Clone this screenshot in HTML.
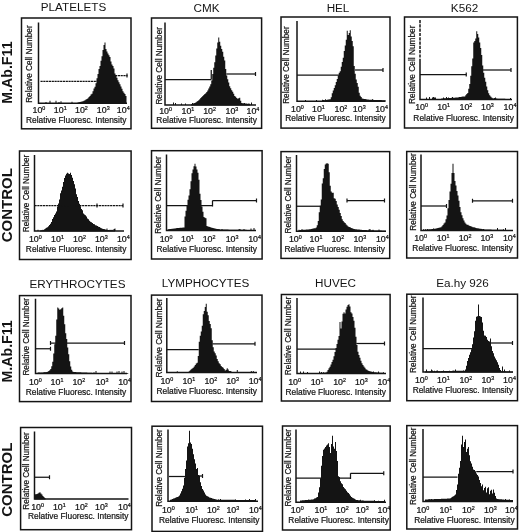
<!DOCTYPE html>
<html><head><meta charset="utf-8"><title>Flow cytometry histograms</title>
<style>
html,body{margin:0;padding:0;background:#fff;}
body{width:520px;height:532px;overflow:hidden;}
svg{display:block;font-family:"Liberation Sans",sans-serif;fill:#141414;}
.tk,.xl,.yl{stroke:#141414;stroke-width:0.22px;}
.tk{font-size:8.2px;}
.sp{font-size:5px;}
.xl{font-size:8.3px;}
.yl{font-size:8.2px;}
.tt{font-size:11.7px;}
.rl{font-size:14.2px;font-weight:bold;}
</style></head><body>
<svg width="520" height="532" viewBox="0 0 520 532">
<rect width="520" height="532" fill="#fff"/>
<rect x="21.5" y="18" width="109.5" height="110.80000000000001" fill="none" stroke="#141414" stroke-width="1.5"/>
<path d="M38.5 22.5V103.2H127" fill="none" stroke="#141414" stroke-width="1.5"/>
<path d="M45.5 103.2v-1.2h1v1.2zM49.5 103.2v-2.4h1v2.4zM55.5 103.2v-2.4h1v2.4zM58.5 103.2v-1.2h1v1.2zM60.5 103.2v-1.9h1v1.9zM71.5 103.2v-1.5h1v1.5zM85.5 103.2v-1.9h1v1.9zM88.5 103.2v-1.9h1v1.9zM93.5 103.2v-1.9h1v1.9zM95.5 103.2v-2.4h1v2.4zM96.5 103.2v-1.2h1v1.2zM98.5 103.2v-1.9h1v1.9zM101.5 103.2v-1.2h1v1.2zM108.5 103.2v-1.2h1v1.2zM109.5 103.2v-1.2h1v1.2zM118.5 103.2v-2.4h1v2.4zM124.5 103.2v-1.9h1v1.9z" fill="#141414"/>
<path d="M77.50 103.7V102.40h1V102.20h1V102.00h1V101.80h1V101.60h1V101.25h1V100.75h1V100.25h1V99.59h1V98.98h1V98.21h1V97.00h1V95.89h1V94.55h1V93.66h1V91.37h1V88.55h1V86.67h1V83.18h1V78.20h1V73.89h1V68.99h1V65.98h1V60.75h1V56.36h1V50.00h1V45.00h1V42.50h1V48.93h1V51.50h1V53.50h1V55.19h1V57.09h1V61.61h1V64.46h1V65.97h1V68.59h1V73.42h1V75.87h1V77.82h1V80.32h1V82.20h1V84.24h1V86.60h1V88.78h1V91.15h1V92.71h1V94.06h1V95.99h1V103.7Z" fill="#141414"/>
<path d="M40.50 81.25L97.50 81.25" stroke="#141414" stroke-width="1.25" stroke-dasharray="2.2 0.6" fill="none"/>
<path d="M115.00 75.50L127.50 75.50" stroke="#141414" stroke-width="1.25" stroke-dasharray="2.2 0.6" fill="none"/>
<path d="M127.00 73.50v4" stroke="#141414" stroke-width="1.2" fill="none"/>
<text transform="translate(32.5 113.0) scale(1.08 1)" class="tk">10<tspan dy="-3" class="sp">0</tspan></text>
<text transform="translate(53.8 113.0) scale(1.08 1)" class="tk">10<tspan dy="-3" class="sp">1</tspan></text>
<text transform="translate(75.0 113.0) scale(1.08 1)" class="tk">10<tspan dy="-3" class="sp">2</tspan></text>
<text transform="translate(96.8 113.0) scale(1.08 1)" class="tk">10<tspan dy="-3" class="sp">3</tspan></text>
<text transform="translate(116.8 113.0) scale(1.08 1)" class="tk">10<tspan dy="-3" class="sp">4</tspan></text>
<text x="76.2" y="123.0" class="xl" text-anchor="middle" textLength="100.5" lengthAdjust="spacingAndGlyphs">Relative Fluoresc. Intensity</text>
<text transform="translate(32.0 64.1) rotate(-90)" class="yl" text-anchor="middle" textLength="77.5" lengthAdjust="spacingAndGlyphs">Relative Cell Number</text>
<rect x="151.5" y="18" width="110.10000000000002" height="110.30000000000001" fill="none" stroke="#141414" stroke-width="1.5"/>
<path d="M165 22.5V105H256" fill="none" stroke="#141414" stroke-width="1.5"/>
<path d="M173.0 105v-2.4h1v2.4zM175.0 105v-1.9h1v1.9zM181.0 105v-1.5h1v1.5zM185.0 105v-1.5h1v1.5zM192.0 105v-1.9h1v1.9zM201.0 105v-2.4h1v2.4zM202.0 105v-1.2h1v1.2zM210.0 105v-2.4h1v2.4zM217.0 105v-1.9h1v1.9zM218.0 105v-1.5h1v1.5zM219.0 105v-1.5h1v1.5zM223.0 105v-1.2h1v1.2zM224.0 105v-1.9h1v1.9zM226.0 105v-2.4h1v2.4zM227.0 105v-1.2h1v1.2zM234.0 105v-1.2h1v1.2zM235.0 105v-1.9h1v1.9zM239.0 105v-2.4h1v2.4zM240.0 105v-1.9h1v1.9zM244.0 105v-1.9h1v1.9zM246.0 105v-1.2h1v1.2zM248.0 105v-1.2h1v1.2zM249.0 105v-1.2h1v1.2zM251.0 105v-2.4h1v2.4z" fill="#141414"/>
<path d="M191.25 105.5V104.07h1V103.72h1V103.37h1V103.01h1V102.56h1V101.78h1V101.03h1V100.35h1V99.26h1V98.02h1V97.12h1V95.94h1V94.90h1V94.11h1V93.28h1V92.09h1V90.60h1V88.53h1V86.47h1V84.32h1V80.44h1V74.01h1V67.73h1V62.31h1V55.52h1V48.50h1V42.50h1V37.50h1V41.79h1V45.78h1V48.91h1V51.86h1V56.74h1V60.47h1V69.05h1V75.61h1V79.25h1V82.51h1V86.28h1V88.27h1V90.24h1V91.74h1V93.63h1V95.97h1V96.83h1V97.91h1V98.81h1V98.21h1V97.80h1V100.74h1V103.06h1V103.17h1V103.29h1V103.40h1V103.51h1V103.63h1V103.74h1V103.86h1V103.97h1V105.5Z" fill="#141414"/>
<path d="M165.00 79.50L211.25 79.50" stroke="#141414" stroke-width="1.25" fill="none"/>
<path d="M211.25 70.00L211.25 79.50" stroke="#141414" stroke-width="1.25" fill="none"/>
<path d="M226.25 74.00L255.50 74.00" stroke="#141414" stroke-width="1.25" fill="none"/>
<path d="M255.50 72.00v4" stroke="#141414" stroke-width="1.2" fill="none"/>
<text transform="translate(159.2 114.3) scale(1.08 1)" class="tk">10<tspan dy="-3" class="sp">0</tspan></text>
<text transform="translate(181.5 114.3) scale(1.08 1)" class="tk">10<tspan dy="-3" class="sp">1</tspan></text>
<text transform="translate(203.2 114.3) scale(1.08 1)" class="tk">10<tspan dy="-3" class="sp">2</tspan></text>
<text transform="translate(225.5 114.3) scale(1.08 1)" class="tk">10<tspan dy="-3" class="sp">3</tspan></text>
<text transform="translate(246.5 114.3) scale(1.08 1)" class="tk">10<tspan dy="-3" class="sp">4</tspan></text>
<text x="206.6" y="122.8" class="xl" text-anchor="middle" textLength="100.5" lengthAdjust="spacingAndGlyphs">Relative Fluoresc. Intensity</text>
<text transform="translate(161.7 65.8) rotate(-90)" class="yl" text-anchor="middle" textLength="77.5" lengthAdjust="spacingAndGlyphs">Relative Cell Number</text>
<rect x="281" y="17" width="109" height="111.1" fill="none" stroke="#141414" stroke-width="1.5"/>
<path d="M297 21V101.2H385" fill="none" stroke="#141414" stroke-width="1.5"/>
<path d="M305.0 101.2v-1.2h1v1.2zM316.0 101.2v-1.2h1v1.2zM322.0 101.2v-1.5h1v1.5zM323.0 101.2v-1.2h1v1.2zM325.0 101.2v-1.9h1v1.9zM327.0 101.2v-1.2h1v1.2zM329.0 101.2v-1.5h1v1.5zM348.0 101.2v-2.4h1v2.4zM350.0 101.2v-1.2h1v1.2zM357.0 101.2v-1.5h1v1.5zM358.0 101.2v-1.9h1v1.9zM372.0 101.2v-1.9h1v1.9zM379.0 101.2v-1.2h1v1.2z" fill="#141414"/>
<path d="M323.75 101.7V100.18h1V100.04h1V99.89h1V99.75h1V99.61h1V99.46h1V99.32h1V97.29h1V93.26h1V90.55h1V88.05h1V85.35h1V81.89h1V79.05h1V75.58h1V72.74h1V71.20h1V66.78h1V62.00h1V57.69h1V51.06h1V45.61h1V39.75h1V30.75h1V34.95h1V33.12h1V30.25h1V36.50h1V40.93h1V46.23h1V66.07h1V73.78h1V79.47h1V83.05h1V86.83h1V92.64h1V95.69h1V97.12h1V98.44h1V98.85h1V98.98h1V99.12h1V99.25h1V99.38h1V99.52h1V99.65h1V99.76h1V99.79h1V99.83h1V99.86h1V99.89h1V99.92h1V99.96h1V99.99h1V100.03h1V100.06h1V100.09h1V100.12h1V100.16h1V100.19h1V100.22h1V100.25h1V101.7Z" fill="#141414"/>
<path d="M297.00 75.00L340.00 75.00" stroke="#141414" stroke-width="1.25" fill="none"/>
<path d="M355.00 70.00L383.00 70.00" stroke="#141414" stroke-width="1.25" fill="none"/>
<path d="M383.00 68.00v4" stroke="#141414" stroke-width="1.2" fill="none"/>
<text transform="translate(291.0 112.0) scale(1.08 1)" class="tk">10<tspan dy="-3" class="sp">0</tspan></text>
<text transform="translate(312.0 112.0) scale(1.08 1)" class="tk">10<tspan dy="-3" class="sp">1</tspan></text>
<text transform="translate(334.5 112.0) scale(1.08 1)" class="tk">10<tspan dy="-3" class="sp">2</tspan></text>
<text transform="translate(352.8 112.0) scale(1.08 1)" class="tk">10<tspan dy="-3" class="sp">3</tspan></text>
<text transform="translate(375.2 112.0) scale(1.08 1)" class="tk">10<tspan dy="-3" class="sp">4</tspan></text>
<text x="335.5" y="120.7" class="xl" text-anchor="middle" textLength="100.5" lengthAdjust="spacingAndGlyphs">Relative Fluoresc. Intensity</text>
<text transform="translate(288.6 65.1) rotate(-90)" class="yl" text-anchor="middle" textLength="77.5" lengthAdjust="spacingAndGlyphs">Relative Cell Number</text>
<rect x="404.5" y="17" width="112.89999999999998" height="111" fill="none" stroke="#141414" stroke-width="1.5"/>
<path d="M420 20V62" fill="none" stroke="#141414" stroke-width="1.5" stroke-dasharray="3.2 1.1"/>
<path d="M420 62V99.5H512" fill="none" stroke="#141414" stroke-width="1.5"/>
<path d="M426.0 99.5v-1.9h1v1.9zM429.0 99.5v-2.4h1v2.4zM432.0 99.5v-1.9h1v1.9zM433.0 99.5v-2.4h1v2.4zM434.0 99.5v-1.9h1v1.9zM435.0 99.5v-1.9h1v1.9zM443.0 99.5v-1.9h1v1.9zM446.0 99.5v-2.4h1v2.4zM448.0 99.5v-1.9h1v1.9zM451.0 99.5v-1.5h1v1.5zM452.0 99.5v-2.4h1v2.4zM453.0 99.5v-1.5h1v1.5zM459.0 99.5v-2.4h1v2.4zM461.0 99.5v-1.2h1v1.2zM462.0 99.5v-1.5h1v1.5zM470.0 99.5v-1.9h1v1.9zM480.0 99.5v-1.9h1v1.9zM485.0 99.5v-1.5h1v1.5zM490.0 99.5v-1.5h1v1.5zM494.0 99.5v-1.5h1v1.5zM495.0 99.5v-1.9h1v1.9zM510.0 99.5v-1.5h1v1.5z" fill="#141414"/>
<path d="M441.25 100.0V98.47h1V98.41h1V98.35h1V98.28h1V98.22h1V98.16h1V98.10h1V98.04h1V97.98h1V97.92h1V97.85h1V97.79h1V97.73h1V97.67h1V97.61h1V97.55h1V97.46h1V97.29h1V97.12h1V96.96h1V96.79h1V96.62h1V96.43h1V96.45h1V95.26h1V94.05h1V92.88h1V88.84h1V83.96h1V75.85h1V66.26h1V58.52h1V42.50h1V41.07h1V38.54h1V31.25h1V33.93h1V37.50h1V42.50h1V48.02h1V54.93h1V65.50h1V72.63h1V77.87h1V81.82h1V86.60h1V90.23h1V93.33h1V95.21h1V96.54h1V97.38h1V98.28h1V98.52h1V98.55h1V98.58h1V98.61h1V98.64h1V98.67h1V98.70h1V98.73h1V98.76h1V98.79h1V98.82h1V98.85h1V98.88h1V98.90h1V98.93h1V98.96h1V98.99h1V100.0Z" fill="#141414"/>
<path d="M420.00 74.50L466.25 74.50" stroke="#141414" stroke-width="1.25" fill="none"/>
<path d="M466.25 72.50v4" stroke="#141414" stroke-width="1.2" fill="none"/>
<path d="M483.00 70.00L511.00 70.00" stroke="#141414" stroke-width="1.25" fill="none"/>
<path d="M511.00 68.00v4" stroke="#141414" stroke-width="1.2" fill="none"/>
<text transform="translate(415.2 110.4) scale(1.08 1)" class="tk">10<tspan dy="-3" class="sp">0</tspan></text>
<text transform="translate(437.2 110.4) scale(1.08 1)" class="tk">10<tspan dy="-3" class="sp">1</tspan></text>
<text transform="translate(459.5 110.4) scale(1.08 1)" class="tk">10<tspan dy="-3" class="sp">2</tspan></text>
<text transform="translate(481.0 110.4) scale(1.08 1)" class="tk">10<tspan dy="-3" class="sp">3</tspan></text>
<text transform="translate(503.6 110.4) scale(1.08 1)" class="tk">10<tspan dy="-3" class="sp">4</tspan></text>
<text x="463.6" y="120.5" class="xl" text-anchor="middle" textLength="100.5" lengthAdjust="spacingAndGlyphs">Relative Fluoresc. Intensity</text>
<text transform="translate(415.2 64.8) rotate(-90)" class="yl" text-anchor="middle" textLength="78.5" lengthAdjust="spacingAndGlyphs">Relative Cell Number</text>
<rect x="19.5" y="151" width="111.6" height="108.5" fill="none" stroke="#141414" stroke-width="1.5"/>
<path d="M34.5 155V231H124" fill="none" stroke="#141414" stroke-width="1.5"/>
<path d="M37.5 231v-1.2h1v1.2zM42.5 231v-1.2h1v1.2zM52.5 231v-1.2h1v1.2zM58.5 231v-2.4h1v2.4zM59.5 231v-2.4h1v2.4zM64.5 231v-1.2h1v1.2zM71.5 231v-1.5h1v1.5zM76.5 231v-1.2h1v1.2zM77.5 231v-2.4h1v2.4zM80.5 231v-1.5h1v1.5zM82.5 231v-1.2h1v1.2zM85.5 231v-1.2h1v1.2zM87.5 231v-2.4h1v2.4zM88.5 231v-1.5h1v1.5zM91.5 231v-1.9h1v1.9zM94.5 231v-1.2h1v1.2zM103.5 231v-1.9h1v1.9zM106.5 231v-2.4h1v2.4zM109.5 231v-1.2h1v1.2zM111.5 231v-1.2h1v1.2zM113.5 231v-1.9h1v1.9zM114.5 231v-2.4h1v2.4z" fill="#141414"/>
<path d="M40.00 231.5V230.43h1V230.29h1V230.14h1V230.00h1V229.26h1V228.53h1V227.71h1V227.19h1V226.27h1V224.99h1V223.73h1V222.10h1V219.03h1V217.21h1V215.11h1V213.46h1V211.45h1V206.62h1V203.47h1V199.53h1V193.35h1V190.55h1V186.83h1V181.88h1V177.89h1V175.46h1V173.75h1V172.75h1V173.61h1V174.00h1V172.75h1V174.91h1V177.78h1V180.96h1V184.25h1V188.59h1V194.29h1V196.91h1V201.10h1V203.66h1V206.25h1V208.99h1V210.32h1V213.43h1V214.62h1V215.17h1V216.44h1V218.58h1V219.32h1V220.72h1V221.73h1V222.27h1V222.89h1V224.08h1V224.36h1V225.23h1V225.62h1V226.04h1V226.65h1V227.07h1V227.87h1V228.24h1V228.65h1V228.95h1V229.25h1V229.55h1V229.85h1V230.03h1V230.10h1V230.17h1V230.23h1V230.30h1V230.37h1V230.43h1V230.50h1V231.5Z" fill="#141414"/>
<path d="M34.50 205.50L123.00 205.50" stroke="#141414" stroke-width="1.25" stroke-dasharray="2.2 0.6" fill="none"/>
<path d="M97.00 203.50v4" stroke="#141414" stroke-width="1.2" fill="none"/>
<path d="M123.00 203.50v4" stroke="#141414" stroke-width="1.2" fill="none"/>
<text transform="translate(28.9 242.0) scale(1.08 1)" class="tk">10<tspan dy="-3" class="sp">0</tspan></text>
<text transform="translate(51.1 242.0) scale(1.08 1)" class="tk">10<tspan dy="-3" class="sp">1</tspan></text>
<text transform="translate(73.1 242.0) scale(1.08 1)" class="tk">10<tspan dy="-3" class="sp">2</tspan></text>
<text transform="translate(94.9 242.0) scale(1.08 1)" class="tk">10<tspan dy="-3" class="sp">3</tspan></text>
<text transform="translate(116.9 242.0) scale(1.08 1)" class="tk">10<tspan dy="-3" class="sp">4</tspan></text>
<text x="76.1" y="251.5" class="xl" text-anchor="middle" textLength="100.5" lengthAdjust="spacingAndGlyphs">Relative Fluoresc. Intensity</text>
<text transform="translate(29.0 193.5) rotate(-90)" class="yl" text-anchor="middle" textLength="77.5" lengthAdjust="spacingAndGlyphs">Relative Cell Number</text>
<rect x="151.5" y="150.7" width="110.60000000000002" height="108.30000000000001" fill="none" stroke="#141414" stroke-width="1.5"/>
<path d="M166.5 154.5V230.5H256" fill="none" stroke="#141414" stroke-width="1.5"/>
<path d="M168.5 230.5v-1.2h1v1.2zM173.5 230.5v-1.2h1v1.2zM176.5 230.5v-1.2h1v1.2zM177.5 230.5v-1.9h1v1.9zM186.5 230.5v-1.5h1v1.5zM188.5 230.5v-1.2h1v1.2zM191.5 230.5v-1.9h1v1.9zM192.5 230.5v-2.4h1v2.4zM196.5 230.5v-2.4h1v2.4zM202.5 230.5v-2.4h1v2.4zM204.5 230.5v-1.2h1v1.2zM207.5 230.5v-1.9h1v1.9zM208.5 230.5v-1.2h1v1.2zM213.5 230.5v-1.5h1v1.5zM216.5 230.5v-1.5h1v1.5zM218.5 230.5v-1.5h1v1.5zM221.5 230.5v-1.5h1v1.5zM238.5 230.5v-1.2h1v1.2zM239.5 230.5v-1.5h1v1.5zM243.5 230.5v-1.5h1v1.5zM250.5 230.5v-1.9h1v1.9zM253.5 230.5v-2.4h1v2.4z" fill="#141414"/>
<path d="M167.50 231.0V229.43h1V229.28h1V229.12h1V228.97h1V228.82h1V228.68h1V228.53h1V228.38h1V228.22h1V228.07h1V227.96h1V227.89h1V227.82h1V227.75h1V227.68h1V227.61h1V227.54h1V216.42h1V210.71h1V205.30h1V199.84h1V195.61h1V189.24h1V181.22h1V173.29h1V169.43h1V166.25h1V163.75h1V166.61h1V169.54h1V172.68h1V179.67h1V193.79h1V199.95h1V206.52h1V211.66h1V217.10h1V217.78h1V218.25h1V225.93h1V226.47h1V226.84h1V227.04h1V227.60h1V227.82h1V228.10h1V228.30h1V228.50h1V228.70h1V228.90h1V229.10h1V229.30h1V229.50h1V229.51h1V229.53h1V229.54h1V229.56h1V229.57h1V229.59h1V229.60h1V229.61h1V229.63h1V229.64h1V229.66h1V229.67h1V229.69h1V229.70h1V229.71h1V229.73h1V229.74h1V229.76h1V229.77h1V229.79h1V229.80h1V229.81h1V229.83h1V229.84h1V229.86h1V229.87h1V229.89h1V229.90h1V229.91h1V229.93h1V229.94h1V229.96h1V229.97h1V229.99h1V230.00h1V231.0Z" fill="#141414"/>
<path d="M166.00 205.50L212.50 205.50" stroke="#141414" stroke-width="1.25" fill="none"/>
<path d="M212.50 200.50L212.50 206.50" stroke="#141414" stroke-width="1.25" fill="none"/>
<path d="M212.50 200.50L256.50 200.50" stroke="#141414" stroke-width="1.25" fill="none"/>
<path d="M256.50 198.50v4" stroke="#141414" stroke-width="1.2" fill="none"/>
<text transform="translate(159.7 241.5) scale(1.08 1)" class="tk">10<tspan dy="-3" class="sp">0</tspan></text>
<text transform="translate(181.0 241.5) scale(1.08 1)" class="tk">10<tspan dy="-3" class="sp">1</tspan></text>
<text transform="translate(202.7 241.5) scale(1.08 1)" class="tk">10<tspan dy="-3" class="sp">2</tspan></text>
<text transform="translate(225.7 241.5) scale(1.08 1)" class="tk">10<tspan dy="-3" class="sp">3</tspan></text>
<text transform="translate(248.2 241.5) scale(1.08 1)" class="tk">10<tspan dy="-3" class="sp">4</tspan></text>
<text x="206.8" y="251.7" class="xl" text-anchor="middle" textLength="100.5" lengthAdjust="spacingAndGlyphs">Relative Fluoresc. Intensity</text>
<text transform="translate(161.3 195.0) rotate(-90)" class="yl" text-anchor="middle" textLength="77.5" lengthAdjust="spacingAndGlyphs">Relative Cell Number</text>
<rect x="281" y="151.6" width="108.69999999999999" height="106.79999999999998" fill="none" stroke="#141414" stroke-width="1.5"/>
<path d="M296.5 155V231.3H386" fill="none" stroke="#141414" stroke-width="1.5"/>
<path d="M298.5 231.3v-1.5h1v1.5zM300.5 231.3v-1.2h1v1.2zM301.5 231.3v-2.4h1v2.4zM319.5 231.3v-1.2h1v1.2zM325.5 231.3v-2.4h1v2.4zM330.5 231.3v-1.2h1v1.2zM332.5 231.3v-2.4h1v2.4zM340.5 231.3v-1.5h1v1.5zM341.5 231.3v-1.5h1v1.5zM350.5 231.3v-1.9h1v1.9zM351.5 231.3v-1.2h1v1.2zM357.5 231.3v-1.2h1v1.2zM362.5 231.3v-1.2h1v1.2zM368.5 231.3v-1.9h1v1.9zM369.5 231.3v-2.4h1v2.4zM372.5 231.3v-1.5h1v1.5zM378.5 231.3v-1.9h1v1.9z" fill="#141414"/>
<path d="M298.75 231.8V230.21h1V230.12h1V230.03h1V229.94h1V229.85h1V229.76h1V229.67h1V229.58h1V229.49h1V229.41h1V229.32h1V229.20h1V228.99h1V228.78h1V228.57h1V228.36h1V228.28h1V227.50h1V225.29h1V221.04h1V212.37h1V205.87h1V199.38h1V183.49h1V178.25h1V169.08h1V164.44h1V163.50h1V163.25h1V163.67h1V172.25h1V185.86h1V191.57h1V192.83h1V192.70h1V198.21h1V198.80h1V201.03h1V204.44h1V207.04h1V209.86h1V212.98h1V216.03h1V219.37h1V221.02h1V222.31h1V223.12h1V224.45h1V225.41h1V226.46h1V226.96h1V227.34h1V227.96h1V228.35h1V228.87h1V229.08h1V229.18h1V229.29h1V229.39h1V229.50h1V229.61h1V229.71h1V229.82h1V229.92h1V230.01h1V230.04h1V230.08h1V230.11h1V230.14h1V230.18h1V230.21h1V230.25h1V230.28h1V230.32h1V230.35h1V230.38h1V230.42h1V230.45h1V230.49h1V230.52h1V230.55h1V230.59h1V230.62h1V230.66h1V230.69h1V230.72h1V230.75h1V231.8Z" fill="#141414"/>
<path d="M296.50 206.25L321.25 206.25" stroke="#141414" stroke-width="1.25" fill="none"/>
<path d="M347.00 200.50L384.50 200.50" stroke="#141414" stroke-width="1.25" fill="none"/>
<path d="M347.00 198.50v4" stroke="#141414" stroke-width="1.2" fill="none"/>
<path d="M384.50 198.50v4" stroke="#141414" stroke-width="1.2" fill="none"/>
<text transform="translate(288.9 242.3) scale(1.08 1)" class="tk">10<tspan dy="-3" class="sp">0</tspan></text>
<text transform="translate(309.6 242.3) scale(1.08 1)" class="tk">10<tspan dy="-3" class="sp">1</tspan></text>
<text transform="translate(331.4 242.3) scale(1.08 1)" class="tk">10<tspan dy="-3" class="sp">2</tspan></text>
<text transform="translate(353.4 242.3) scale(1.08 1)" class="tk">10<tspan dy="-3" class="sp">3</tspan></text>
<text transform="translate(375.9 242.3) scale(1.08 1)" class="tk">10<tspan dy="-3" class="sp">4</tspan></text>
<text x="334.7" y="251.8" class="xl" text-anchor="middle" textLength="100.5" lengthAdjust="spacingAndGlyphs">Relative Fluoresc. Intensity</text>
<text transform="translate(290.7 194.7) rotate(-90)" class="yl" text-anchor="middle" textLength="77.5" lengthAdjust="spacingAndGlyphs">Relative Cell Number</text>
<rect x="406.7" y="151.5" width="110.80000000000001" height="106.5" fill="none" stroke="#141414" stroke-width="1.5"/>
<path d="M421 154.5V230.5H513" fill="none" stroke="#141414" stroke-width="1.5"/>
<path d="M423.0 230.5v-1.2h1v1.2zM425.0 230.5v-1.2h1v1.2zM427.0 230.5v-1.5h1v1.5zM433.0 230.5v-1.9h1v1.9zM442.0 230.5v-1.9h1v1.9zM449.0 230.5v-2.4h1v2.4zM451.0 230.5v-1.9h1v1.9zM454.0 230.5v-1.5h1v1.5zM457.0 230.5v-1.2h1v1.2zM460.0 230.5v-1.2h1v1.2zM461.0 230.5v-1.2h1v1.2zM467.0 230.5v-2.4h1v2.4zM470.0 230.5v-2.4h1v2.4zM483.0 230.5v-1.5h1v1.5zM497.0 230.5v-2.4h1v2.4zM503.0 230.5v-1.2h1v1.2zM505.0 230.5v-2.4h1v2.4z" fill="#141414"/>
<path d="M422.50 231.0V229.95h1V229.85h1V229.75h1V229.65h1V229.55h1V229.45h1V229.35h1V229.25h1V229.15h1V229.05h1V228.95h1V228.85h1V228.75h1V228.47h1V228.19h1V227.91h1V227.63h1V227.38h1V227.13h1V226.19h1V224.89h1V223.56h1V222.53h1V219.20h1V215.50h1V208.32h1V200.03h1V191.57h1V183.79h1V172.92h1V163.75h1V172.92h1V180.96h1V185.43h1V191.04h1V195.56h1V200.70h1V207.12h1V212.34h1V215.26h1V218.30h1V220.61h1V222.62h1V223.85h1V224.65h1V224.82h1V225.56h1V226.04h1V226.32h1V226.81h1V227.13h1V227.26h1V227.62h1V227.92h1V228.13h1V228.30h1V228.47h1V228.64h1V228.81h1V228.99h1V229.16h1V229.33h1V229.50h1V229.52h1V229.54h1V229.56h1V229.58h1V229.60h1V229.62h1V229.64h1V229.66h1V229.68h1V229.70h1V229.72h1V229.74h1V229.76h1V229.78h1V229.80h1V229.82h1V229.84h1V229.86h1V229.88h1V229.90h1V229.92h1V229.94h1V229.96h1V229.98h1V230.00h1V231.0Z" fill="#141414"/>
<path d="M421.00 206.00L446.50 206.00" stroke="#141414" stroke-width="1.25" fill="none"/>
<path d="M446.50 204.00v4" stroke="#141414" stroke-width="1.2" fill="none"/>
<path d="M472.50 200.75L512.50 200.75" stroke="#141414" stroke-width="1.25" fill="none"/>
<path d="M472.50 198.75v4" stroke="#141414" stroke-width="1.2" fill="none"/>
<path d="M512.50 198.75v4" stroke="#141414" stroke-width="1.2" fill="none"/>
<text transform="translate(414.2 240.8) scale(1.08 1)" class="tk">10<tspan dy="-3" class="sp">0</tspan></text>
<text transform="translate(436.7 240.8) scale(1.08 1)" class="tk">10<tspan dy="-3" class="sp">1</tspan></text>
<text transform="translate(458.7 240.8) scale(1.08 1)" class="tk">10<tspan dy="-3" class="sp">2</tspan></text>
<text transform="translate(480.4 240.8) scale(1.08 1)" class="tk">10<tspan dy="-3" class="sp">3</tspan></text>
<text transform="translate(502.9 240.8) scale(1.08 1)" class="tk">10<tspan dy="-3" class="sp">4</tspan></text>
<text x="462.6" y="251.0" class="xl" text-anchor="middle" textLength="100.5" lengthAdjust="spacingAndGlyphs">Relative Fluoresc. Intensity</text>
<text transform="translate(415.5 192.0) rotate(-90)" class="yl" text-anchor="middle" textLength="77.5" lengthAdjust="spacingAndGlyphs">Relative Cell Number</text>
<rect x="19.5" y="295.6" width="111.5" height="106.0" fill="none" stroke="#141414" stroke-width="1.5"/>
<path d="M35.5 298.75V373.5H127" fill="none" stroke="#141414" stroke-width="1.5"/>
<path d="M38.5 373.5v-1.2h1v1.2zM44.5 373.5v-1.5h1v1.5zM50.5 373.5v-1.2h1v1.2zM51.5 373.5v-1.9h1v1.9zM52.5 373.5v-1.2h1v1.2zM56.5 373.5v-1.9h1v1.9zM63.5 373.5v-1.2h1v1.2zM68.5 373.5v-2.4h1v2.4zM93.5 373.5v-1.2h1v1.2zM95.5 373.5v-2.4h1v2.4zM109.5 373.5v-1.9h1v1.9zM111.5 373.5v-1.9h1v1.9zM116.5 373.5v-1.9h1v1.9zM118.5 373.5v-2.4h1v2.4zM121.5 373.5v-1.9h1v1.9zM123.5 373.5v-2.4h1v2.4z" fill="#141414"/>
<path d="M36.25 374.0V372.96h1V372.87h1V372.78h1V372.69h1V372.60h1V372.51h1V372.42h1V372.33h1V372.24h1V372.16h1V372.07h1V371.78h1V370.92h1V370.15h1V369.09h1V366.21h1V361.65h1V353.45h1V344.18h1V335.86h1V319.44h1V307.50h1V308.44h1V309.69h1V309.25h1V308.25h1V307.50h1V315.83h1V324.31h1V333.36h1V339.12h1V347.48h1V354.21h1V361.29h1V366.55h1V369.71h1V371.54h1V372.03h1V372.08h1V372.12h1V372.17h1V372.22h1V372.26h1V372.31h1V372.35h1V372.40h1V372.44h1V372.49h1V372.53h1V372.58h1V372.62h1V372.67h1V372.72h1V372.76h1V372.81h1V372.85h1V372.90h1V372.94h1V372.99h1V373.01h1V373.01h1V373.02h1V373.03h1V373.04h1V373.04h1V373.05h1V373.06h1V373.07h1V373.07h1V373.08h1V373.09h1V373.10h1V373.11h1V373.11h1V373.12h1V373.13h1V373.14h1V373.14h1V373.15h1V373.16h1V373.17h1V373.18h1V373.18h1V373.19h1V373.20h1V373.21h1V373.21h1V373.22h1V373.23h1V373.24h1V373.24h1V373.25h1V374.0Z" fill="#141414"/>
<path d="M35.50 348.75L50.50 348.75" stroke="#141414" stroke-width="1.25" fill="none"/>
<path d="M50.50 346.75v4" stroke="#141414" stroke-width="1.2" fill="none"/>
<path d="M50.50 343.00L124.50 343.00" stroke="#141414" stroke-width="1.25" fill="none"/>
<path d="M50.50 341.00v4" stroke="#141414" stroke-width="1.2" fill="none"/>
<path d="M124.50 341.00v4" stroke="#141414" stroke-width="1.2" fill="none"/>
<text transform="translate(28.9 384.5) scale(1.08 1)" class="tk">10<tspan dy="-3" class="sp">0</tspan></text>
<text transform="translate(50.6 384.5) scale(1.08 1)" class="tk">10<tspan dy="-3" class="sp">1</tspan></text>
<text transform="translate(72.4 384.5) scale(1.08 1)" class="tk">10<tspan dy="-3" class="sp">2</tspan></text>
<text transform="translate(95.7 384.5) scale(1.08 1)" class="tk">10<tspan dy="-3" class="sp">3</tspan></text>
<text transform="translate(118.2 384.5) scale(1.08 1)" class="tk">10<tspan dy="-3" class="sp">4</tspan></text>
<text x="76.0" y="394.7" class="xl" text-anchor="middle" textLength="100.5" lengthAdjust="spacingAndGlyphs">Relative Fluoresc. Intensity</text>
<text transform="translate(29.0 336.8) rotate(-90)" class="yl" text-anchor="middle" textLength="77.5" lengthAdjust="spacingAndGlyphs">Relative Cell Number</text>
<rect x="151.5" y="295.1" width="110.5" height="106.39999999999998" fill="none" stroke="#141414" stroke-width="1.5"/>
<path d="M166.8 298V372.5H257" fill="none" stroke="#141414" stroke-width="1.5"/>
<path d="M176.8 372.5v-1.2h1v1.2zM193.8 372.5v-1.9h1v1.9zM197.8 372.5v-1.5h1v1.5zM200.8 372.5v-2.4h1v2.4zM208.8 372.5v-1.5h1v1.5zM209.8 372.5v-1.2h1v1.2zM214.8 372.5v-1.9h1v1.9zM218.8 372.5v-1.2h1v1.2zM223.8 372.5v-1.5h1v1.5zM229.8 372.5v-1.5h1v1.5zM236.8 372.5v-2.4h1v2.4zM250.8 372.5v-1.5h1v1.5zM252.8 372.5v-1.5h1v1.5z" fill="#141414"/>
<path d="M188.75 373.0V371.27h1V370.32h1V369.33h1V368.48h1V367.68h1V366.52h1V365.11h1V363.54h1V362.67h1V355.89h1V341.65h1V335.87h1V331.53h1V325.77h1V314.25h1V310.96h1V306.92h1V303.75h1V311.85h1V315.21h1V321.08h1V324.07h1V328.20h1V340.30h1V347.22h1V351.42h1V353.19h1V355.49h1V359.05h1V361.20h1V363.15h1V364.27h1V366.00h1V367.07h1V367.87h1V369.00h1V370.60h1V369.82h1V368.37h1V369.62h1V371.00h1V371.31h1V371.62h1V371.92h1V372.01h1V372.02h1V372.03h1V372.04h1V372.05h1V372.06h1V372.07h1V372.09h1V372.10h1V372.11h1V372.12h1V372.13h1V372.14h1V372.15h1V372.16h1V372.18h1V372.19h1V372.20h1V372.21h1V372.22h1V372.23h1V372.24h1V372.25h1V373.0Z" fill="#141414"/>
<path d="M166.25 349.50L198.75 349.50" stroke="#141414" stroke-width="1.25" fill="none"/>
<path d="M212.50 343.75L255.00 343.75" stroke="#141414" stroke-width="1.25" fill="none"/>
<path d="M255.00 341.75v4" stroke="#141414" stroke-width="1.2" fill="none"/>
<text transform="translate(160.4 384.0) scale(1.08 1)" class="tk">10<tspan dy="-3" class="sp">0</tspan></text>
<text transform="translate(182.4 384.0) scale(1.08 1)" class="tk">10<tspan dy="-3" class="sp">1</tspan></text>
<text transform="translate(204.4 384.0) scale(1.08 1)" class="tk">10<tspan dy="-3" class="sp">2</tspan></text>
<text transform="translate(226.2 384.0) scale(1.08 1)" class="tk">10<tspan dy="-3" class="sp">3</tspan></text>
<text transform="translate(248.7 384.0) scale(1.08 1)" class="tk">10<tspan dy="-3" class="sp">4</tspan></text>
<text x="206.8" y="394.0" class="xl" text-anchor="middle" textLength="100.5" lengthAdjust="spacingAndGlyphs">Relative Fluoresc. Intensity</text>
<text transform="translate(161.6 337.9) rotate(-90)" class="yl" text-anchor="middle" textLength="79" lengthAdjust="spacingAndGlyphs">Relative Cell Number</text>
<rect x="281.4" y="294.5" width="108.70000000000005" height="106.5" fill="none" stroke="#141414" stroke-width="1.5"/>
<path d="M297 298V373.5H386" fill="none" stroke="#141414" stroke-width="1.5"/>
<path d="M300.0 373.5v-1.9h1v1.9zM303.0 373.5v-1.9h1v1.9zM307.0 373.5v-1.5h1v1.5zM319.0 373.5v-1.9h1v1.9zM321.0 373.5v-1.5h1v1.5zM323.0 373.5v-1.2h1v1.2zM332.0 373.5v-2.4h1v2.4zM335.0 373.5v-2.4h1v2.4zM337.0 373.5v-1.5h1v1.5zM339.0 373.5v-1.5h1v1.5zM343.0 373.5v-1.2h1v1.2zM348.0 373.5v-2.4h1v2.4zM350.0 373.5v-2.4h1v2.4zM352.0 373.5v-1.9h1v1.9zM357.0 373.5v-1.2h1v1.2zM360.0 373.5v-1.5h1v1.5zM362.0 373.5v-2.4h1v2.4zM367.0 373.5v-1.9h1v1.9zM370.0 373.5v-1.2h1v1.2zM373.0 373.5v-1.9h1v1.9zM378.0 373.5v-1.9h1v1.9zM383.0 373.5v-1.2h1v1.2z" fill="#141414"/>
<path d="M317.50 374.0V372.97h1V372.92h1V372.86h1V372.81h1V372.75h1V372.69h1V372.64h1V372.58h1V372.53h1V371.67h1V369.97h1V368.20h1V366.75h1V364.62h1V362.00h1V359.80h1V356.27h1V352.09h1V348.03h1V343.94h1V339.74h1V336.06h1V321.91h1V328.57h1V321.53h1V313.75h1V312.25h1V313.50h1V309.50h1V306.83h1V304.96h1V304.25h1V306.50h1V312.25h1V313.58h1V317.12h1V320.81h1V327.80h1V336.73h1V345.01h1V351.64h1V355.01h1V357.68h1V360.81h1V363.17h1V365.00h1V366.49h1V367.81h1V369.15h1V369.73h1V370.45h1V371.05h1V371.27h1V371.49h1V371.71h1V371.92h1V372.14h1V372.29h1V372.36h1V372.43h1V372.50h1V372.57h1V372.64h1V372.71h1V372.79h1V372.86h1V372.93h1V373.00h1V374.0Z" fill="#141414"/>
<path d="M297.00 349.00L336.25 349.00" stroke="#141414" stroke-width="1.25" fill="none"/>
<path d="M356.25 343.50L384.50 343.50" stroke="#141414" stroke-width="1.25" fill="none"/>
<path d="M384.50 341.50v4" stroke="#141414" stroke-width="1.2" fill="none"/>
<text transform="translate(288.2 384.5) scale(1.08 1)" class="tk">10<tspan dy="-3" class="sp">0</tspan></text>
<text transform="translate(310.7 384.5) scale(1.08 1)" class="tk">10<tspan dy="-3" class="sp">1</tspan></text>
<text transform="translate(333.2 384.5) scale(1.08 1)" class="tk">10<tspan dy="-3" class="sp">2</tspan></text>
<text transform="translate(354.9 384.5) scale(1.08 1)" class="tk">10<tspan dy="-3" class="sp">3</tspan></text>
<text transform="translate(377.4 384.5) scale(1.08 1)" class="tk">10<tspan dy="-3" class="sp">4</tspan></text>
<text x="335.8" y="394.7" class="xl" text-anchor="middle" textLength="100.5" lengthAdjust="spacingAndGlyphs">Relative Fluoresc. Intensity</text>
<text transform="translate(290.5 335.9) rotate(-90)" class="yl" text-anchor="middle" textLength="78.5" lengthAdjust="spacingAndGlyphs">Relative Cell Number</text>
<rect x="406.8" y="294.2" width="110.69999999999999" height="106.5" fill="none" stroke="#141414" stroke-width="1.5"/>
<path d="M423 297.5V372H513" fill="none" stroke="#141414" stroke-width="1.5"/>
<path d="M426.0 372v-2.4h1v2.4zM431.0 372v-2.4h1v2.4zM432.0 372v-1.5h1v1.5zM434.0 372v-1.2h1v1.2zM436.0 372v-1.2h1v1.2zM437.0 372v-1.5h1v1.5zM443.0 372v-1.5h1v1.5zM449.0 372v-1.2h1v1.2zM453.0 372v-1.2h1v1.2zM455.0 372v-2.4h1v2.4zM463.0 372v-1.5h1v1.5zM472.0 372v-1.9h1v1.9zM476.0 372v-1.5h1v1.5zM479.0 372v-2.4h1v2.4zM487.0 372v-1.9h1v1.9zM489.0 372v-2.4h1v2.4zM496.0 372v-1.5h1v1.5zM499.0 372v-1.9h1v1.9zM500.0 372v-1.9h1v1.9zM502.0 372v-1.9h1v1.9zM504.0 372v-2.4h1v2.4zM509.0 372v-1.5h1v1.5z" fill="#141414"/>
<path d="M425.00 372.5V371.49h1V371.47h1V371.44h1V371.42h1V371.40h1V371.37h1V371.35h1V371.33h1V371.30h1V371.28h1V371.26h1V371.23h1V371.21h1V371.19h1V371.17h1V371.14h1V371.12h1V371.10h1V371.07h1V371.05h1V371.03h1V371.00h1V370.98h1V370.96h1V370.93h1V370.91h1V370.89h1V370.87h1V370.84h1V370.82h1V370.80h1V370.77h1V370.75h1V370.75h1V370.75h1V370.75h1V370.75h1V370.75h1V370.75h1V370.75h1V369.38h1V365.87h1V361.10h1V357.96h1V354.79h1V352.22h1V349.27h1V344.20h1V337.42h1V331.24h1V320.63h1V316.75h1V316.25h1V304.50h1V316.00h1V316.44h1V316.89h1V322.42h1V330.76h1V335.44h1V335.70h1V336.88h1V339.66h1V340.91h1V341.58h1V338.45h1V346.15h1V351.00h1V353.15h1V356.56h1V358.39h1V360.14h1V362.27h1V364.72h1V367.89h1V371.00h1V371.20h1V366.46h1V371.26h1V371.32h1V371.37h1V371.43h1V371.48h1V371.53h1V371.59h1V371.64h1V371.70h1V371.75h1V372.5Z" fill="#141414"/>
<path d="M423.00 348.50L472.50 348.50" stroke="#141414" stroke-width="1.25" fill="none"/>
<path d="M490.00 343.00L512.50 343.00" stroke="#141414" stroke-width="1.25" fill="none"/>
<path d="M512.50 341.00v4" stroke="#141414" stroke-width="1.2" fill="none"/>
<text transform="translate(414.9 383.3) scale(1.08 1)" class="tk">10<tspan dy="-3" class="sp">0</tspan></text>
<text transform="translate(436.9 383.3) scale(1.08 1)" class="tk">10<tspan dy="-3" class="sp">1</tspan></text>
<text transform="translate(459.4 383.3) scale(1.08 1)" class="tk">10<tspan dy="-3" class="sp">2</tspan></text>
<text transform="translate(481.4 383.3) scale(1.08 1)" class="tk">10<tspan dy="-3" class="sp">3</tspan></text>
<text transform="translate(503.1 383.3) scale(1.08 1)" class="tk">10<tspan dy="-3" class="sp">4</tspan></text>
<text x="462.9" y="393.0" class="xl" text-anchor="middle" textLength="100.5" lengthAdjust="spacingAndGlyphs">Relative Fluoresc. Intensity</text>
<text transform="translate(415.7 334.2) rotate(-90)" class="yl" text-anchor="middle" textLength="77.5" lengthAdjust="spacingAndGlyphs">Relative Cell Number</text>
<rect x="20.6" y="427.5" width="110.9" height="102.20000000000005" fill="none" stroke="#141414" stroke-width="1.5"/>
<path d="M34.5 431.5V499H128.5" fill="none" stroke="#141414" stroke-width="1.5"/>
<path d="M34.50 499.5V494.37h1V494.17h1V493.99h1V493.45h1V492.85h1V492.25h1V493.38h1V494.55h1V495.91h1V497.00h1V498.00h1V499.5Z" fill="#141414"/>
<path d="M34.50 477.25L49.50 477.25" stroke="#141414" stroke-width="1.25" fill="none"/>
<path d="M49.50 475.25v4" stroke="#141414" stroke-width="1.2" fill="none"/>
<text transform="translate(31.2 510.0) scale(1.08 1)" class="tk">10<tspan dy="-3" class="sp">0</tspan></text>
<text transform="translate(52.9 510.0) scale(1.08 1)" class="tk">10<tspan dy="-3" class="sp">1</tspan></text>
<text transform="translate(75.0 510.0) scale(1.08 1)" class="tk">10<tspan dy="-3" class="sp">2</tspan></text>
<text transform="translate(95.0 510.0) scale(1.08 1)" class="tk">10<tspan dy="-3" class="sp">3</tspan></text>
<text transform="translate(118.0 510.0) scale(1.08 1)" class="tk">10<tspan dy="-3" class="sp">4</tspan></text>
<text x="78.2" y="519.0" class="xl" text-anchor="middle" textLength="100.5" lengthAdjust="spacingAndGlyphs">Relative Fluoresc. Intensity</text>
<text transform="translate(28.7 470.9) rotate(-90)" class="yl" text-anchor="middle" textLength="77.5" lengthAdjust="spacingAndGlyphs">Relative Cell Number</text>
<rect x="152" y="426.2" width="110.5" height="105.19999999999999" fill="none" stroke="#141414" stroke-width="1.5"/>
<path d="M168 429.5V501.3H258" fill="none" stroke="#141414" stroke-width="1.5"/>
<path d="M174.0 501.3v-1.2h1v1.2zM176.0 501.3v-1.2h1v1.2zM179.0 501.3v-1.5h1v1.5zM180.0 501.3v-2.4h1v2.4zM181.0 501.3v-1.5h1v1.5zM191.0 501.3v-2.4h1v2.4zM192.0 501.3v-1.9h1v1.9zM196.0 501.3v-1.9h1v1.9zM200.0 501.3v-1.9h1v1.9zM210.0 501.3v-2.4h1v2.4zM216.0 501.3v-1.2h1v1.2zM218.0 501.3v-1.9h1v1.9zM220.0 501.3v-2.4h1v2.4zM231.0 501.3v-1.2h1v1.2zM235.0 501.3v-1.9h1v1.9zM245.0 501.3v-1.9h1v1.9zM249.0 501.3v-2.4h1v2.4zM255.0 501.3v-2.4h1v2.4z" fill="#141414"/>
<path d="M170.00 501.8V499.67h1V499.50h1V499.05h1V498.60h1V498.18h1V497.63h1V497.28h1V496.89h1V496.56h1V495.51h1V493.55h1V491.37h1V488.66h1V485.45h1V477.67h1V469.08h1V460.44h1V446.44h1V443.25h1V430.75h1V442.43h1V443.89h1V448.75h1V454.31h1V459.21h1V463.47h1V468.97h1V467.92h1V475.03h1V475.76h1V482.27h1V486.03h1V488.98h1V490.55h1V492.62h1V494.52h1V495.72h1V496.33h1V496.72h1V497.43h1V497.67h1V498.07h1V498.39h1V498.65h1V498.91h1V499.17h1V499.43h1V499.69h1V499.76h1V499.76h1V499.77h1V499.78h1V499.78h1V499.79h1V499.80h1V499.80h1V499.81h1V499.82h1V499.82h1V499.83h1V499.84h1V499.84h1V499.85h1V499.86h1V499.86h1V499.87h1V499.88h1V499.88h1V499.89h1V499.90h1V499.90h1V499.91h1V499.92h1V499.92h1V499.93h1V499.94h1V499.94h1V499.95h1V499.96h1V499.96h1V499.97h1V499.98h1V499.98h1V499.99h1V500.00h1V501.8Z" fill="#141414"/>
<path d="M169.00 476.50L185.00 476.50" stroke="#141414" stroke-width="1.25" fill="none"/>
<path d="M198.00 476.00L202.50 476.00" stroke="#141414" stroke-width="1.25" fill="none"/>
<path d="M202.50 474.00v4" stroke="#141414" stroke-width="1.2" fill="none"/>
<text transform="translate(161.9 513.3) scale(1.08 1)" class="tk">10<tspan dy="-3" class="sp">0</tspan></text>
<text transform="translate(185.2 513.3) scale(1.08 1)" class="tk">10<tspan dy="-3" class="sp">1</tspan></text>
<text transform="translate(206.9 513.3) scale(1.08 1)" class="tk">10<tspan dy="-3" class="sp">2</tspan></text>
<text transform="translate(226.4 513.3) scale(1.08 1)" class="tk">10<tspan dy="-3" class="sp">3</tspan></text>
<text transform="translate(248.9 513.3) scale(1.08 1)" class="tk">10<tspan dy="-3" class="sp">4</tspan></text>
<text x="209.2" y="522.5" class="xl" text-anchor="middle" textLength="100.5" lengthAdjust="spacingAndGlyphs">Relative Fluoresc. Intensity</text>
<text transform="translate(161.5 467.9) rotate(-90)" class="yl" text-anchor="middle" textLength="77.5" lengthAdjust="spacingAndGlyphs">Relative Cell Number</text>
<rect x="282.5" y="426" width="107.69999999999999" height="104" fill="none" stroke="#141414" stroke-width="1.5"/>
<path d="M296 429.5V502.2H386" fill="none" stroke="#141414" stroke-width="1.5"/>
<path d="M304.0 502.2v-1.5h1v1.5zM308.0 502.2v-2.4h1v2.4zM312.0 502.2v-1.9h1v1.9zM314.0 502.2v-1.9h1v1.9zM328.0 502.2v-1.5h1v1.5zM330.0 502.2v-2.4h1v2.4zM342.0 502.2v-2.4h1v2.4zM344.0 502.2v-1.9h1v1.9zM360.0 502.2v-2.4h1v2.4zM362.0 502.2v-1.5h1v1.5zM370.0 502.2v-1.2h1v1.2zM374.0 502.2v-1.9h1v1.9zM378.0 502.2v-1.5h1v1.5zM384.0 502.2v-2.4h1v2.4z" fill="#141414"/>
<path d="M300.00 502.7V500.46h1V500.38h1V500.30h1V500.22h1V500.14h1V500.06h1V499.98h1V499.90h1V499.82h1V499.74h1V499.66h1V499.58h1V499.50h1V499.14h1V498.44h1V498.21h1V497.52h1V497.06h1V492.46h1V487.25h1V478.17h1V465.75h1V456.03h1V449.79h1V448.38h1V446.88h1V445.50h1V444.50h1V443.25h1V447.00h1V453.08h1V443.88h1V435.75h1V446.58h1V448.67h1V442.00h1V450.91h1V461.08h1V476.23h1V477.07h1V481.22h1V483.33h1V484.31h1V486.94h1V488.15h1V489.20h1V490.72h1V492.16h1V493.10h1V494.34h1V495.76h1V497.00h1V497.74h1V498.33h1V498.80h1V499.53h1V500.02h1V500.11h1V500.19h1V500.28h1V500.36h1V500.45h1V500.54h1V500.62h1V500.71h1V500.76h1V500.77h1V500.78h1V500.79h1V500.81h1V500.82h1V500.83h1V500.84h1V500.86h1V500.87h1V500.88h1V500.89h1V500.91h1V500.92h1V500.93h1V500.94h1V500.96h1V500.97h1V500.98h1V500.99h1V502.7Z" fill="#141414"/>
<path d="M296.00 478.00L350.50 478.00" stroke="#141414" stroke-width="1.25" fill="none"/>
<path d="M350.50 473.25L350.50 479.00" stroke="#141414" stroke-width="1.25" fill="none"/>
<path d="M350.50 473.25L383.75 473.25" stroke="#141414" stroke-width="1.25" fill="none"/>
<path d="M383.75 471.25v4" stroke="#141414" stroke-width="1.2" fill="none"/>
<text transform="translate(290.8 513.3) scale(1.08 1)" class="tk">10<tspan dy="-3" class="sp">0</tspan></text>
<text transform="translate(314.5 513.3) scale(1.08 1)" class="tk">10<tspan dy="-3" class="sp">1</tspan></text>
<text transform="translate(335.8 513.3) scale(1.08 1)" class="tk">10<tspan dy="-3" class="sp">2</tspan></text>
<text transform="translate(355.8 513.3) scale(1.08 1)" class="tk">10<tspan dy="-3" class="sp">3</tspan></text>
<text transform="translate(377.5 513.3) scale(1.08 1)" class="tk">10<tspan dy="-3" class="sp">4</tspan></text>
<text x="338.6" y="522.7" class="xl" text-anchor="middle" textLength="100.5" lengthAdjust="spacingAndGlyphs">Relative Fluoresc. Intensity</text>
<text transform="translate(291.0 467.7) rotate(-90)" class="yl" text-anchor="middle" textLength="77.5" lengthAdjust="spacingAndGlyphs">Relative Cell Number</text>
<rect x="406.8" y="425.6" width="110.69999999999999" height="103.39999999999998" fill="none" stroke="#141414" stroke-width="1.5"/>
<path d="M423 429V501.4H513" fill="none" stroke="#141414" stroke-width="1.5"/>
<path d="M426.0 501.4v-1.5h1v1.5zM429.0 501.4v-1.9h1v1.9zM430.0 501.4v-1.2h1v1.2zM431.0 501.4v-2.4h1v2.4zM432.0 501.4v-1.2h1v1.2zM434.0 501.4v-2.4h1v2.4zM436.0 501.4v-1.2h1v1.2zM441.0 501.4v-2.4h1v2.4zM442.0 501.4v-1.9h1v1.9zM443.0 501.4v-2.4h1v2.4zM445.0 501.4v-1.5h1v1.5zM456.0 501.4v-1.2h1v1.2zM460.0 501.4v-1.5h1v1.5zM467.0 501.4v-1.2h1v1.2zM475.0 501.4v-1.9h1v1.9zM476.0 501.4v-2.4h1v2.4zM482.0 501.4v-1.5h1v1.5zM485.0 501.4v-1.2h1v1.2zM487.0 501.4v-1.5h1v1.5zM496.0 501.4v-1.9h1v1.9zM498.0 501.4v-1.9h1v1.9zM500.0 501.4v-1.9h1v1.9zM501.0 501.4v-1.9h1v1.9zM505.0 501.4v-2.4h1v2.4zM509.0 501.4v-1.9h1v1.9zM510.0 501.4v-1.2h1v1.2z" fill="#141414"/>
<path d="M425.00 501.9V499.48h1V499.44h1V499.40h1V499.36h1V499.32h1V499.28h1V499.24h1V499.20h1V499.16h1V499.12h1V499.08h1V499.04h1V499.00h1V498.96h1V498.92h1V498.88h1V498.84h1V498.80h1V498.76h1V498.72h1V498.68h1V498.64h1V498.60h1V498.56h1V498.52h1V498.15h1V497.43h1V496.68h1V496.16h1V495.41h1V494.46h1V489.89h1V484.44h1V473.77h1V467.65h1V460.94h1V444.50h1V435.75h1V447.00h1V442.00h1V439.50h1V452.04h1V448.67h1V447.00h1V455.22h1V461.32h1V463.62h1V466.84h1V469.55h1V470.10h1V471.36h1V473.53h1V475.01h1V476.45h1V480.00h1V483.08h1V486.35h1V484.39h1V490.25h1V487.92h1V486.77h1V492.58h1V488.31h1V487.29h1V494.20h1V490.86h1V489.72h1V493.62h1V489.56h1V492.82h1V496.07h1V498.41h1V499.08h1V499.19h1V499.31h1V499.42h1V499.51h1V499.56h1V499.60h1V499.64h1V499.69h1V499.73h1V499.78h1V499.82h1V499.87h1V499.91h1V499.96h1V500.00h1V501.9Z" fill="#141414"/>
<path d="M423.00 477.00L457.50 477.00" stroke="#141414" stroke-width="1.25" fill="none"/>
<path d="M476.25 471.50L513.00 471.50" stroke="#141414" stroke-width="1.25" fill="none"/>
<path d="M513.00 469.50v4" stroke="#141414" stroke-width="1.2" fill="none"/>
<text transform="translate(416.4 512.9) scale(1.08 1)" class="tk">10<tspan dy="-3" class="sp">0</tspan></text>
<text transform="translate(439.4 512.9) scale(1.08 1)" class="tk">10<tspan dy="-3" class="sp">1</tspan></text>
<text transform="translate(461.9 512.9) scale(1.08 1)" class="tk">10<tspan dy="-3" class="sp">2</tspan></text>
<text transform="translate(483.9 512.9) scale(1.08 1)" class="tk">10<tspan dy="-3" class="sp">3</tspan></text>
<text transform="translate(504.9 512.9) scale(1.08 1)" class="tk">10<tspan dy="-3" class="sp">4</tspan></text>
<text x="464.4" y="523.1" class="xl" text-anchor="middle" textLength="100.5" lengthAdjust="spacingAndGlyphs">Relative Fluoresc. Intensity</text>
<text transform="translate(416.0 466.2) rotate(-90)" class="yl" text-anchor="middle" textLength="77.5" lengthAdjust="spacingAndGlyphs">Relative Cell Number</text>
<text x="73.5" y="10.7" class="tt" text-anchor="middle">PLATELETS</text>
<text x="206.5" y="11.5" class="tt" text-anchor="middle">CMK</text>
<text x="338" y="11.5" class="tt" text-anchor="middle">HEL</text>
<text x="464.5" y="11.5" class="tt" text-anchor="middle">K562</text>
<text x="77.5" y="288.2" class="tt" text-anchor="middle">ERYTHROCYTES</text>
<text x="205.5" y="286.5" class="tt" text-anchor="middle">LYMPHOCYTES</text>
<text x="335.5" y="287" class="tt" text-anchor="middle">HUVEC</text>
<text x="462.5" y="287" class="tt" text-anchor="middle">Ea.hy 926</text>
<text transform="translate(12.2 72.6) rotate(-90)" class="rl" style="font-size:14.2px" text-anchor="middle">M.Ab.F11</text>
<text transform="translate(12.2 205.2) rotate(-90)" class="rl" style="font-size:15px" text-anchor="middle">CONTROL</text>
<text transform="translate(12.2 351.4) rotate(-90)" class="rl" style="font-size:14.2px" text-anchor="middle">M.Ab.F11</text>
<text transform="translate(12.2 479.7) rotate(-90)" class="rl" style="font-size:15px" text-anchor="middle">CONTROL</text>
</svg>
</body></html>
